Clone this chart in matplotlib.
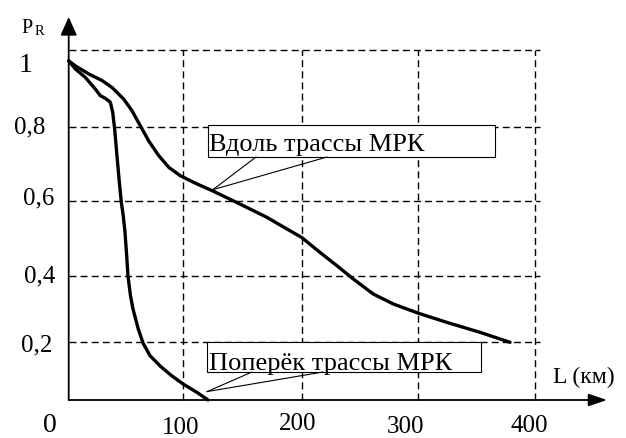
import numpy as np
import matplotlib
matplotlib.use("Agg")
import matplotlib.pyplot as plt
from matplotlib.patches import Rectangle, ConnectionPatch

# ---------------- data ----------------
along_L = [0, 5.8, 17.5, 29.1, 37.8, 48.0, 55.2, 62.5, 69.8, 78.5, 87.3, 97.4, 111.3, 125.3,
           147.9, 170.4, 187.3, 200, 215.8, 230.2, 244.5, 261.7, 279, 300, 324.7, 353.1, 378.7]
along_P = [0.972, 0.959, 0.938, 0.921, 0.903, 0.873, 0.843, 0.804, 0.763, 0.723, 0.691, 0.668,
           0.646, 0.626, 0.591, 0.556, 0.525, 0.502, 0.462, 0.427, 0.390, 0.345, 0.315, 0.288,
           0.260, 0.230, 0.200]

cross_L = [0, 5.8, 14.5, 23.2, 27.6, 31.9, 36.3, 38.4, 40.1, 42.1, 44.2, 45.9, 47.6, 49.1,
           50.6, 51.7, 53.9, 56.1, 60.7, 64.8, 70.9, 79.7, 89.9, 100, 111.3, 120.9]
cross_P = [0.972, 0.951, 0.929, 0.899, 0.882, 0.875, 0.865, 0.839, 0.795, 0.723, 0.650, 0.596,
           0.560, 0.517, 0.453, 0.400, 0.340, 0.300, 0.240, 0.198, 0.154, 0.118, 0.084, 0.055,
           0.027, 0.0]

x_ticks = [100, 200, 300, 400]
x_tick_labels = ["100", "200", "300", "400"]
y_ticks = [0.2, 0.4, 0.6, 0.8, 1.0]
y_tick_labels = ["0,2", "0,4", "0,6", "0,8", "1"]
origin_label = "0"
label_along = "Вдоль трассы МРК"
label_cross = "Поперёк трассы МРК"
along_target = (125, 0.630)
cross_target = (120, 0.029)

# --------------- figure ---------------
W, H = 626, 439
fig = plt.figure(figsize=(W / 100, H / 100), dpi=100)
FONT = "Liberation Serif"

def fpx(x, y):
    """pixel (top-left origin) -> figure fraction"""
    return x / W, 1 - y / H

# hand-drawn (slightly irregular) grid -> piecewise-linear scales
XV = [-1000, 0, 100, 200, 300, 400, 2000]
XP = [-1150, 0, 114.6, 233, 349, 466.3, 466.3 + 1600 * 1.17]
YV = [-10, 0, 0.2, 0.4, 0.6, 0.8, 1.0, 10]
YP = [-3500, 0, 57.7, 124.3, 199.3, 272.7, 350, 350 + 9 * 386]

ax_left, ax_right, ax_top, ax_bottom = 68.7, 607, 18, 401
ax = fig.add_axes([ax_left / W, (H - ax_bottom) / H,
                   (ax_right - ax_left) / W, (ax_bottom - ax_top) / H])
ax.set_xscale("function", functions=(lambda v: np.interp(v, XV, XP),
                                     lambda p: np.interp(p, XP, XV)))
ax.set_yscale("function", functions=(lambda v: np.interp(v, YV, YP),
                                     lambda p: np.interp(p, YP, YV)))
ax.set_xlim(0, 400 + (ax_right - ax_left - 466.3) / 1.17)
ax.set_ylim(0, 1.0 + (ax_bottom - ax_top - 350) / 386 * 1.0)
for s in ax.spines.values():
    s.set_visible(False)
ax.set_xticks([])
ax.set_yticks([])
ax.patch.set_alpha(0)

dash = (0, (5, 3))
for yv in y_ticks:
    ax.plot([0, 404], [yv, yv], color="black", lw=1.0, linestyle=dash, clip_on=False, zorder=1)
for xv in x_ticks:
    ax.plot([xv, xv], [0, 1.0], color="black", lw=1.0, linestyle=dash, clip_on=False, zorder=1)

# axes with arrows
ax.annotate("", xy=(1, 0), xytext=(0, 0), xycoords="axes fraction",
            arrowprops=dict(arrowstyle="-|>,head_length=0.8,head_width=0.27",
                            mutation_scale=14, lw=1.3, color="black",
                            shrinkA=0, shrinkB=0), zorder=4)
ax.annotate("", xy=(0, 1), xytext=(0, 0), xycoords="axes fraction",
            arrowprops=dict(arrowstyle="-|>,head_length=0.8,head_width=0.36",
                            mutation_scale=14, lw=1.3, color="black",
                            shrinkA=0, shrinkB=0), zorder=4)

ax.plot(along_L, along_P, color="black", lw=2.4, clip_on=False, zorder=3,
        solid_capstyle="round", solid_joinstyle="round")
ax.plot(cross_L, cross_P, color="black", lw=2.4, clip_on=False, zorder=3,
        solid_capstyle="round", solid_joinstyle="round")

# annotation boxes
def box(x0, y0, x1, y1):
    r = Rectangle(fpx(x0, y1), (x1 - x0) / W, (y1 - y0) / H, transform=fig.transFigure,
                  facecolor="white", edgecolor="black", lw=0.8, zorder=2)
    fig.add_artist(r)

def leader(px, py, target):
    c = ConnectionPatch(xyA=fpx(px, py), coordsA=fig.transFigure,
                        xyB=target, coordsB=ax.transData,
                        color="black", lw=0.8, zorder=2)
    fig.add_artist(c)

box(208, 126, 495, 158)
fig.text(*fpx(209, 151), label_along, fontfamily=FONT, fontsize=19, va="baseline", ha="left", zorder=5)
leader(256, 158, along_target)
leader(327, 158, along_target)

box(207, 343, 481, 373)
fig.text(*fpx(209, 370), label_cross, fontfamily=FONT, fontsize=19, va="baseline", ha="left", zorder=5)
leader(252, 373, cross_target)
leader(323, 373, cross_target)

# tick labels (hand placed in the original)
x_lab_px = [(181, 434), (298, 430), (406, 433), (529, 432)]
for lab, (px, py) in zip(x_tick_labels, x_lab_px):
    fig.text(*fpx(px, py), lab, fontfamily=FONT, fontsize=18, ha="center", va="baseline")
y_lab_px = [(37, 351), (40, 282), (39, 204), (30, 133), (26, 72)]
for lab, (px, py) in zip(y_tick_labels, y_lab_px):
    fs = 20 if lab == "1" else 18
    fig.text(*fpx(px, py), lab, fontfamily=FONT, fontsize=fs, ha="center", va="baseline")
fig.text(*fpx(50, 432), origin_label, fontfamily=FONT, fontsize=20, ha="center", va="baseline")

# axis titles
fig.text(*fpx(21, 33), "P", fontfamily=FONT, fontsize=14.5, ha="left", va="baseline")
fig.text(*fpx(35, 35), "R", fontfamily=FONT, fontsize=10.5, ha="left", va="baseline")
fig.text(*fpx(615, 383), "L (км)", fontfamily=FONT, fontsize=17, ha="right", va="baseline")

fig.savefig("out.png", dpi=100)
